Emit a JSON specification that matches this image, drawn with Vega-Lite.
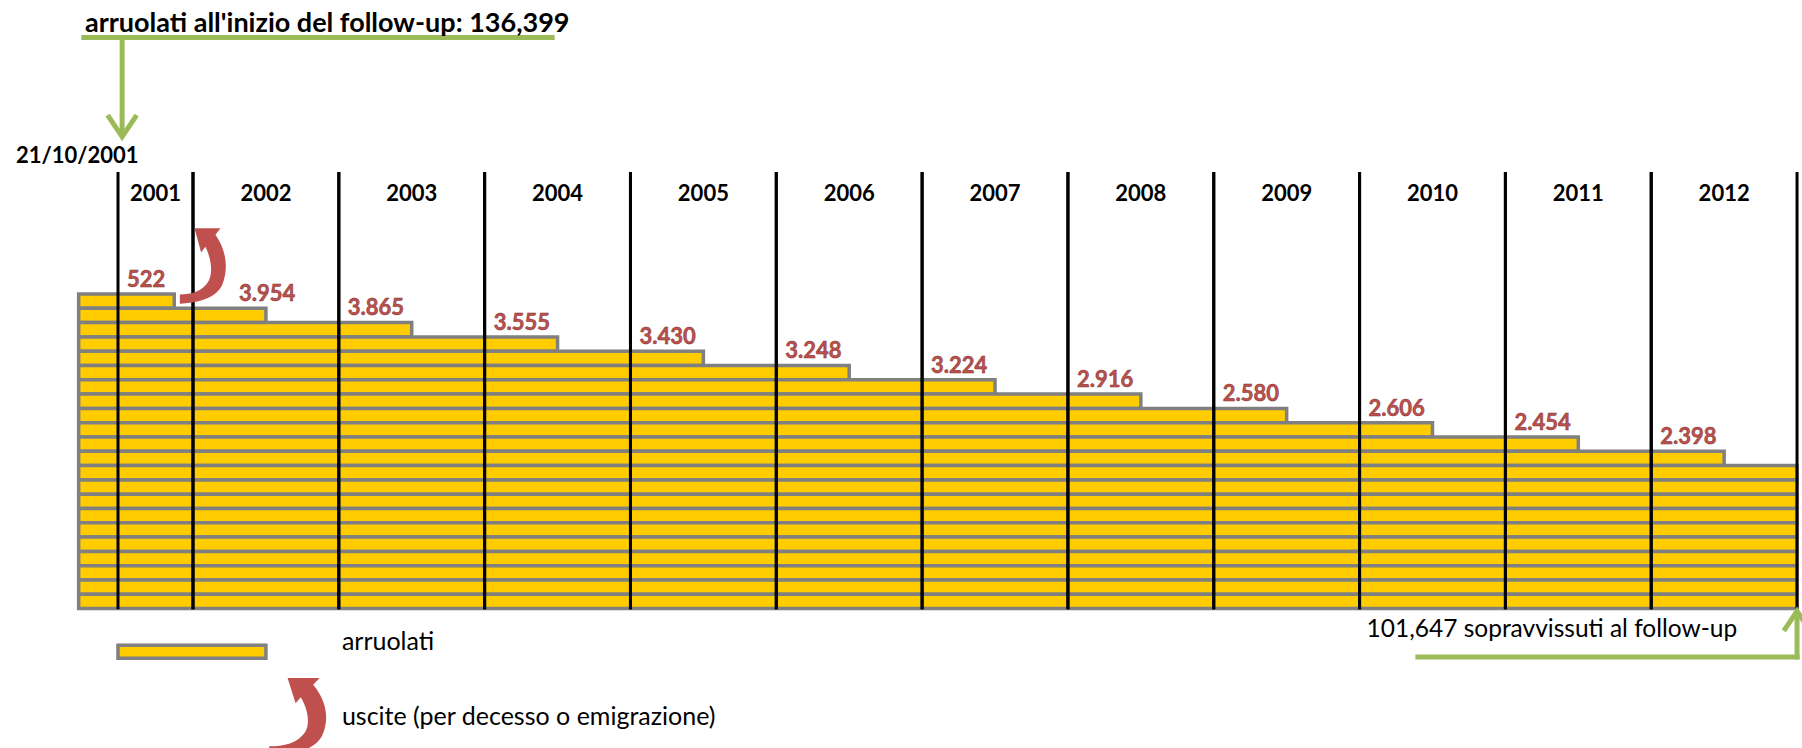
{
  "$schema": "https://vega.github.io/schema/vega-lite/v6.json",
  "width": 1802,
  "height": 748,
  "padding": 0,
  "autosize": {"type": "none"},
  "background": "white",
  "config": {
    "view": {"stroke": null},
    "text": {"font": "Lato"}
  },
  "datasets": {
    "periodi": [
      {"anno": 2001, "inizio": 2001.8, "fine": 2002, "uscite": 522},
      {"anno": 2002, "inizio": 2002, "fine": 2003, "uscite": 3954},
      {"anno": 2003, "inizio": 2003, "fine": 2004, "uscite": 3865},
      {"anno": 2004, "inizio": 2004, "fine": 2005, "uscite": 3555},
      {"anno": 2005, "inizio": 2005, "fine": 2006, "uscite": 3430},
      {"anno": 2006, "inizio": 2006, "fine": 2007, "uscite": 3248},
      {"anno": 2007, "inizio": 2007, "fine": 2008, "uscite": 3224},
      {"anno": 2008, "inizio": 2008, "fine": 2009, "uscite": 2916},
      {"anno": 2009, "inizio": 2009, "fine": 2010, "uscite": 2580},
      {"anno": 2010, "inizio": 2010, "fine": 2011, "uscite": 2606},
      {"anno": 2011, "inizio": 2011, "fine": 2012, "uscite": 2454},
      {"anno": 2012, "inizio": 2012, "fine": 2013, "uscite": 2398}
    ],
    "righe": [
      {"riga": 1, "fine": 2001.95},
      {"riga": 2, "fine": 2002.5},
      {"riga": 3, "fine": 2003.5},
      {"riga": 4, "fine": 2004.5},
      {"riga": 5, "fine": 2005.5},
      {"riga": 6, "fine": 2006.5},
      {"riga": 7, "fine": 2007.5},
      {"riga": 8, "fine": 2008.5},
      {"riga": 9, "fine": 2009.5},
      {"riga": 10, "fine": 2010.5},
      {"riga": 11, "fine": 2011.5},
      {"riga": 12, "fine": 2012.5},
      {"riga": 13, "fine": 2013},
      {"riga": 14, "fine": 2013},
      {"riga": 15, "fine": 2013},
      {"riga": 16, "fine": 2013},
      {"riga": 17, "fine": 2013},
      {"riga": 18, "fine": 2013},
      {"riga": 19, "fine": 2013},
      {"riga": 20, "fine": 2013},
      {"riga": 21, "fine": 2013},
      {"riga": 22, "fine": 2013}
    ],
    "uno": [{"k": 1}]
  },
  "layer": [
    {
      "data": {"name": "righe"},
      "transform": [{"calculate": "datum.riga - 1", "as": "top"}, {"calculate": "2001.5", "as": "inizio"}],
      "mark": {"type": "rect", "fill": "#FFCC00", "stroke": "#808080", "strokeWidth": 3.5},
      "encoding": {
        "x": {"field": "inizio", "type": "quantitative", "axis": null, "scale": {"domain": [2000.9, 2001.8, 2002, 2013.034], "range": [0, 118, 193, 1802], "zero": false, "nice": false}},
        "x2": {"field": "fine"},
        "y": {"field": "top", "type": "quantitative", "axis": null, "scale": {"domain": [-20.56, 31.75], "range": [0, 748], "zero": false, "nice": false}},
        "y2": {"field": "riga"}
      }
    },
    {
      "data": {"name": "periodi"},
      "mark": {"type": "rule", "color": "black", "strokeWidth": 3},
      "encoding": {
        "x": {"field": "inizio", "type": "quantitative"},
        "y": {"datum": -8.53, "type": "quantitative"},
        "y2": {"datum": 22.05}
      }
    },
    {
      "data": {"name": "periodi"},
      "mark": {"type": "rule", "color": "black", "strokeWidth": 3},
      "encoding": {
        "x": {"field": "fine", "type": "quantitative"},
        "y": {"datum": -8.53, "type": "quantitative"},
        "y2": {"datum": 22.05}
      }
    },
    {
      "data": {"name": "periodi"},
      "transform": [{"calculate": "(datum.inizio + datum.fine) / 2", "as": "centro"}],
      "mark": {"type": "text", "fontWeight": "bold", "fontSize": 22, "align": "center", "baseline": "alphabetic", "color": "black"},
      "encoding": {
        "x": {"field": "centro", "type": "quantitative"},
        "y": {"datum": -6.5, "type": "quantitative"},
        "text": {"field": "anno", "type": "nominal"}
      }
    },
    {
      "data": {"name": "periodi"},
      "transform": [{"filter": "datum.anno != 2002"}, {"calculate": "datum.anno - 2001.5", "as": "ylab"}, {"calculate": "replace(format(datum.uscite, ','), ',', '.')", "as": "etichetta"}],
      "mark": {"type": "text", "fontWeight": "bold", "fontSize": 22, "align": "left", "baseline": "alphabetic", "dx": 9, "color": "#C0504D", "stroke": "#7a3331", "strokeWidth": 0.5},
      "encoding": {
        "x": {"field": "inizio", "type": "quantitative"},
        "y": {"field": "ylab", "type": "quantitative"},
        "text": {"field": "etichetta", "type": "nominal"}
      }
    },
    {
      "data": {"name": "periodi"},
      "transform": [{"filter": "datum.anno == 2002"}, {"calculate": "datum.anno - 2001.5", "as": "ylab"}, {"calculate": "replace(format(datum.uscite, ','), ',', '.')", "as": "etichetta"}],
      "mark": {"type": "text", "fontWeight": "bold", "fontSize": 22, "align": "left", "baseline": "alphabetic", "dx": 46, "color": "#C0504D", "stroke": "#7a3331", "strokeWidth": 0.5},
      "encoding": {
        "x": {"field": "inizio", "type": "quantitative"},
        "y": {"field": "ylab", "type": "quantitative"},
        "text": {"field": "etichetta", "type": "nominal"}
      }
    },
    {
      "data": {"name": "uno"},
      "mark": {"type": "point", "shape": "M-0.6,1 C-0.1,0.98 0.35,0.85 0.5,0.5 C0.65,0.12 0.62,-0.35 0.32,-0.78 L0.45,-0.95 L-0.22,-0.95 L-0.05,-0.32 L0.06,-0.47 C0.22,-0.15 0.25,0.2 0.15,0.4 C0,0.68 -0.3,0.76 -0.6,0.76 Z", "filled": true, "color": "#C0504D", "opacity": 1, "size": 6000, "strokeWidth": 0},
      "encoding": {
        "x": {"datum": 2002.069, "type": "quantitative"},
        "y": {"datum": -2.03, "type": "quantitative"}
      }
    },
    {
      "data": {"name": "uno"},
      "mark": {"type": "point", "shape": "M-0.72,1 C-0.12,0.98 0.42,0.85 0.6,0.5 C0.78,0.12 0.74,-0.35 0.38,-0.78 L0.54,-0.95 L-0.26,-0.95 L-0.06,-0.32 L0.07,-0.47 C0.26,-0.15 0.3,0.2 0.18,0.4 C0,0.68 -0.36,0.76 -0.72,0.76 Z", "filled": true, "color": "#C0504D", "opacity": 1, "size": 6400, "strokeWidth": 0},
      "encoding": {
        "x": {"datum": 2002.72, "type": "quantitative"},
        "y": {"datum": 29.51, "type": "quantitative"}
      }
    },
    {
      "data": {"name": "uno"},
      "mark": {"type": "rule", "color": "#9BBB59", "strokeWidth": 5},
      "encoding": {
        "x": {"datum": 2001.52, "type": "quantitative"},
        "x2": {"datum": 2004.48},
        "y": {"datum": -17.94, "type": "quantitative"}
      }
    },
    {
      "data": {"name": "uno"},
      "mark": {"type": "rule", "color": "#9BBB59", "strokeWidth": 5},
      "encoding": {
        "x": {"datum": 2001.811, "type": "quantitative"},
        "y": {"datum": -17.94, "type": "quantitative"},
        "y2": {"datum": -11.1}
      }
    },
    {
      "data": {"name": "uno"},
      "mark": {"type": "point", "shape": "M-1,-0.75 L0,0.75 L1,-0.75", "filled": false, "color": "#9BBB59", "opacity": 1, "size": 841, "strokeWidth": 5},
      "encoding": {
        "x": {"datum": 2001.811, "type": "quantitative"},
        "y": {"datum": -11.75, "type": "quantitative"}
      }
    },
    {
      "data": {"name": "uno"},
      "mark": {"type": "rule", "color": "#9BBB59", "strokeWidth": 5, "strokeCap": "square"},
      "encoding": {
        "x": {"datum": 2010.4, "type": "quantitative"},
        "x2": {"datum": 2013},
        "y": {"datum": 25.38, "type": "quantitative"}
      }
    },
    {
      "data": {"name": "uno"},
      "mark": {"type": "rule", "color": "#9BBB59", "strokeWidth": 5, "strokeCap": "square"},
      "encoding": {
        "x": {"datum": 2013, "type": "quantitative"},
        "y": {"datum": 25.38, "type": "quantitative"},
        "y2": {"datum": 22.4}
      }
    },
    {
      "data": {"name": "uno"},
      "mark": {"type": "point", "shape": "M-1,0.75 L0,-0.75 L1,0.75", "filled": false, "color": "#9BBB59", "opacity": 1, "size": 700, "strokeWidth": 5},
      "encoding": {
        "x": {"datum": 2013, "type": "quantitative"},
        "y": {"datum": 22.87, "type": "quantitative"}
      }
    },
    {
      "data": {"name": "uno"},
      "transform": [{"calculate": "2001.8", "as": "x1"}, {"calculate": "2002.5", "as": "x2"}, {"calculate": "24.57", "as": "y1"}, {"calculate": "25.47", "as": "y2"}],
      "mark": {"type": "rect", "fill": "#FFCC00", "stroke": "#808080", "strokeWidth": 3.5},
      "encoding": {
        "x": {"field": "x1", "type": "quantitative"},
        "x2": {"field": "x2"},
        "y": {"field": "y1", "type": "quantitative"},
        "y2": {"field": "y2"}
      }
    },
    {
      "data": {"name": "uno"},
      "mark": {"type": "text", "text": "arruolati all'inizio del follow-up: 136,399", "fontWeight": "bold", "fontSize": 27, "align": "left", "baseline": "alphabetic", "color": "black"},
      "encoding": {
        "x": {"datum": 2001.548, "type": "quantitative"},
        "y": {"datum": -18.32, "type": "quantitative"}
      }
    },
    {
      "data": {"name": "uno"},
      "mark": {"type": "text", "text": "21/10/2001", "fontWeight": "bold", "fontSize": 22, "align": "left", "baseline": "alphabetic", "color": "black"},
      "encoding": {
        "x": {"datum": 2001.022, "type": "quantitative"},
        "y": {"datum": -9.16, "type": "quantitative"}
      }
    },
    {
      "data": {"name": "uno"},
      "mark": {"type": "text", "text": "101,647 sopravvissuti al follow-up", "fontSize": 24.5, "align": "left", "baseline": "alphabetic", "color": "black"},
      "encoding": {
        "x": {"datum": 2010.048, "type": "quantitative"},
        "y": {"datum": 24.0, "type": "quantitative"}
      }
    },
    {
      "data": {"name": "uno"},
      "mark": {"type": "text", "text": "arruolati", "fontSize": 25, "align": "left", "baseline": "alphabetic", "color": "black"},
      "encoding": {
        "x": {"datum": 2003.021, "type": "quantitative"},
        "y": {"datum": 24.9, "type": "quantitative"}
      }
    },
    {
      "data": {"name": "uno"},
      "mark": {"type": "text", "text": "uscite (per decesso o emigrazione)", "fontSize": 25, "align": "left", "baseline": "alphabetic", "color": "black"},
      "encoding": {
        "x": {"datum": 2003.021, "type": "quantitative"},
        "y": {"datum": 30.14, "type": "quantitative"}
      }
    }
  ]
}
